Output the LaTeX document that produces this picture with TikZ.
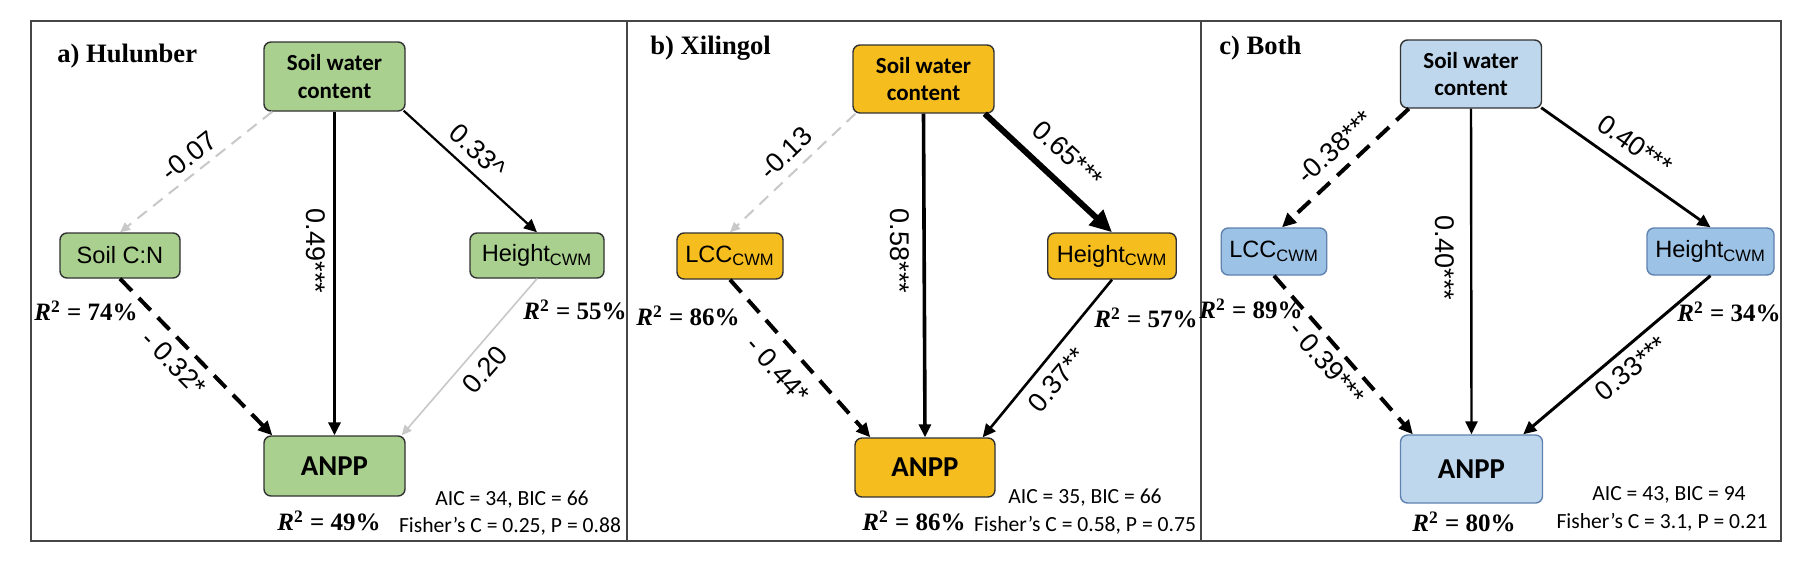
\documentclass[tikz,border=0pt]{standalone}
\usepackage{fontspec}
\setmainfont{Liberation Serif}
\setsansfont{Liberation Sans}
\newfontfamily\calfont{Carlito}
\usetikzlibrary{arrows.meta,calc}
\definecolor{gfill}{RGB}{169,208,142}
\definecolor{yfill}{RGB}{245,189,30}
\definecolor{blight}{RGB}{190,215,237}
\definecolor{bdark}{RGB}{156,194,229}
\definecolor{bborder}{RGB}{96,130,175}
\definecolor{boxline}{RGB}{50,50,50}
\definecolor{framec}{RGB}{70,70,70}
\definecolor{lgray}{RGB}{200,200,200}
\newcommand\rsqt[1]{\textit{R}\textsuperscript{2} = #1\%}
\begin{document}
\begin{tikzpicture}[x=0.5pt,y=-0.5pt,
  box/.style={draw=boxline, line width=0.7pt, rounded corners=3.5pt, inner sep=0pt, align=center},
  sz/.style 2 args={minimum width={#1*0.5pt}, minimum height={#2*0.5pt}},
  bigtxt/.style={font=\calfont\bfseries\fontsize{11.5}{13.8}\selectfont},
  antxt/.style={font=\calfont\bfseries\fontsize{14.4}{16}\selectfont},
  smtxt/.style={font=\sffamily\fontsize{11.8}{13}\selectfont},
  elab/.style={font=\sffamily\fontsize{13.5}{15}\selectfont, inner sep=0pt},
  rsq/.style={font=\rmfamily\bfseries\fontsize{12.5}{13}\selectfont, inner sep=0pt},
  stat/.style={font=\calfont\fontsize{10.8}{13}\selectfont, inner sep=0pt},
  ttl/.style={font=\rmfamily\bfseries\fontsize{13.3}{14}\selectfont, inner sep=0pt, anchor=west},
  framebox/.style={draw=framec, line width=0.8pt},
  gdash/.style={draw=lgray, line width=1pt, dash pattern=on 6pt off 4pt, -{Triangle[length=5pt,width=4.5pt]}},
  bdash/.style={draw=black, line width=2pt, dash pattern=on 8.5pt off 5pt, -{Triangle[length=7pt,width=6.5pt]}},
  sarrow/.style={draw=black, -{Triangle[length=6.5pt,width=6pt]}},
  lgline/.style={draw=lgray, line width=0.8pt, -{Triangle[length=5pt,width=4.5pt]}},
  gbox/.style={box, fill=gfill},
  ybox/.style={box, fill=yfill},
  blbox/.style={box, fill=blight},
  bdbox/.style={box, fill=bdark, draw=bborder}
]
\useasboundingbox (0,0) rectangle (1814,563);
\fill[white] (0,0) rectangle (1814,563);

% frames
\draw[framebox] (31,21) rectangle (627,541);
\draw[framebox] (627,21) rectangle (1201,541);
\draw[framebox] (1201,21) rectangle (1781,541);

% ---------------- panel a
\node[ttl] (ta) at (57,56) {a) Hulunber};
\node[gbox, sz={141}{69}, bigtxt] (swcA) at (334.5,76.5) {Soil water\\content};
\node[gbox, sz={120}{45}, smtxt] (cnA) at (120,255.5) {Soil C:N};
\node[gbox, sz={134}{45}, smtxt] (hA) at (537,255.5) {Height\textsubscript{CWM}};
\node[gbox, sz={141}{60}, antxt] (anppA) at (334.5,466) {ANPP};

\draw[gdash] ($(swcA.south west)+(9,0)$) -- (cnA.north);
\draw[sarrow, line width=1.1pt] ($(swcA.south east)+(-2,-1)$) -- (hA.north);
\draw[sarrow, line width=1.8pt] (swcA.south) -- (anppA.north);
\draw[bdash] (cnA.south) -- ($(anppA.north west)+(9,0)$);
\draw[lgline] (hA.south) -- ($(anppA.north east)+(-4,0)$);

\node[elab, rotate=38.7] (la1) at (189,156) {-0.07};
\node[elab, rotate=-42.5] (la2) at (478,151) {0.33\textasciicircum};
\node[elab, rotate=-90] (la3) at (316,251) {0.49***};
\node[elab, rotate=-45.7] (la4) at (174,363) {- 0.32*};
\node[elab, rotate=49] (la5) at (485,370) {0.20};

\node[rsq] (ra1) at (86,311) {\rsqt{74}};
\node[rsq] (ra2) at (575,310) {\rsqt{55}};
\node[rsq] (ra3) at (329,521) {\rsqt{49}};
\node[stat] (sa1) at (512,500) {AIC = 34, BIC = 66};
\node[stat] (sa2) at (510,526) {Fisher’s C = 0.25, P = 0.88};

% ---------------- panel b
\node[ttl] (tb) at (650,48) {b) Xilingol};
\node[ybox, sz={141}{68}, bigtxt] (swcB) at (923.5,79) {Soil water\\content};
\node[ybox, sz={106}{46}, smtxt] (lccB) at (730,256) {LCC\textsubscript{CWM}};
\node[ybox, sz={128.5}{46}, smtxt] (hB) at (1112,256) {Height\textsubscript{CWM}};
\node[ybox, sz={140}{59}, antxt] (anppB) at (925,467.5) {ANPP};

\draw[gdash] ($(swcB.south west)+(3,0)$) -- (lccB.north);
\draw[draw=black, line width=3pt, -{Triangle[length=11pt,width=10pt]}] ($(swcB.south east)+(-10,0)$) -- (hB.north);
\draw[sarrow, line width=1.8pt] (swcB.south) -- (anppB.north);
\draw[bdash] (lccB.south) -- ($(anppB.north west)+(16,0)$);
\draw[sarrow, line width=1.3pt] (hB.south) -- ($(anppB.north east)+(-13,0)$);

\node[elab, rotate=44] (lb1) at (786,153) {-0.13};
\node[elab, rotate=-42.9] (lb2) at (1068,154) {0.65***};
\node[elab, rotate=-90] (lb3) at (900,251) {0.58***};
\node[elab, rotate=-48] (lb4) at (778,370) {- 0.44*};
\node[elab, rotate=50] (lb5) at (1057,380) {0.37**};

\node[rsq] (rb1) at (688,316) {\rsqt{86}};
\node[rsq] (rb2) at (1146,318) {\rsqt{57}};
\node[rsq] (rb3) at (914,521) {\rsqt{86}};
\node[stat] (sb1) at (1085,498) {AIC = 35, BIC = 66};
\node[stat] (sb2) at (1085,525) {Fisher’s C = 0.58, P = 0.75};

% ---------------- panel c
\node[ttl] (tc) at (1219,48) {c) Both};
\node[blbox, sz={141}{68}, bigtxt] (swcC) at (1471,74) {Soil water\\content};
\node[bdbox, sz={105.5}{47}, smtxt] (lccC) at (1274,251.5) {LCC\textsubscript{CWM}};
\node[bdbox, sz={127}{47}, smtxt] (hC) at (1710.5,251.5) {Height\textsubscript{CWM}};
\node[blbox, sz={142}{68}, antxt, draw=bborder] (anppC) at (1471.5,469) {ANPP};

\draw[bdash] ($(swcC.south west)+(9,0)$) -- ($(lccC.north)+(8,0)$);
\draw[sarrow, line width=1.4pt] ($(swcC.south east)+(-1,-1)$) -- (hC.north);
\draw[sarrow, line width=1.2pt] (swcC.south) -- (anppC.north);
\draw[bdash] (lccC.south) -- ($(anppC.north west)+(13,0)$);
\draw[sarrow, line width=1.5pt] (hC.south) -- ($(anppC.north east)+(-20,0)$);

\node[elab, rotate=42.9] (lc1) at (1335,147) {-0.38***};
\node[elab, rotate=-35.5] (lc2) at (1635,145) {0.40***};
\node[elab, rotate=-90] (lc3) at (1445,258) {0.40***};
\node[elab, rotate=-49.5] (lc4) at (1327,363) {- 0.39***};
\node[elab, rotate=39.7] (lc5) at (1631,368) {0.33***};

\node[rsq] (rc1) at (1251,309) {\rsqt{89}};
\node[rsq] (rc2) at (1729,312) {\rsqt{34}};
\node[rsq] (rc3) at (1464,522) {\rsqt{80}};
\node[stat] (sc1) at (1669,495) {AIC = 43, BIC = 94};
\node[stat] (sc2) at (1662,522) {Fisher’s C = 3.1, P = 0.21};
\end{tikzpicture}
\end{document}
